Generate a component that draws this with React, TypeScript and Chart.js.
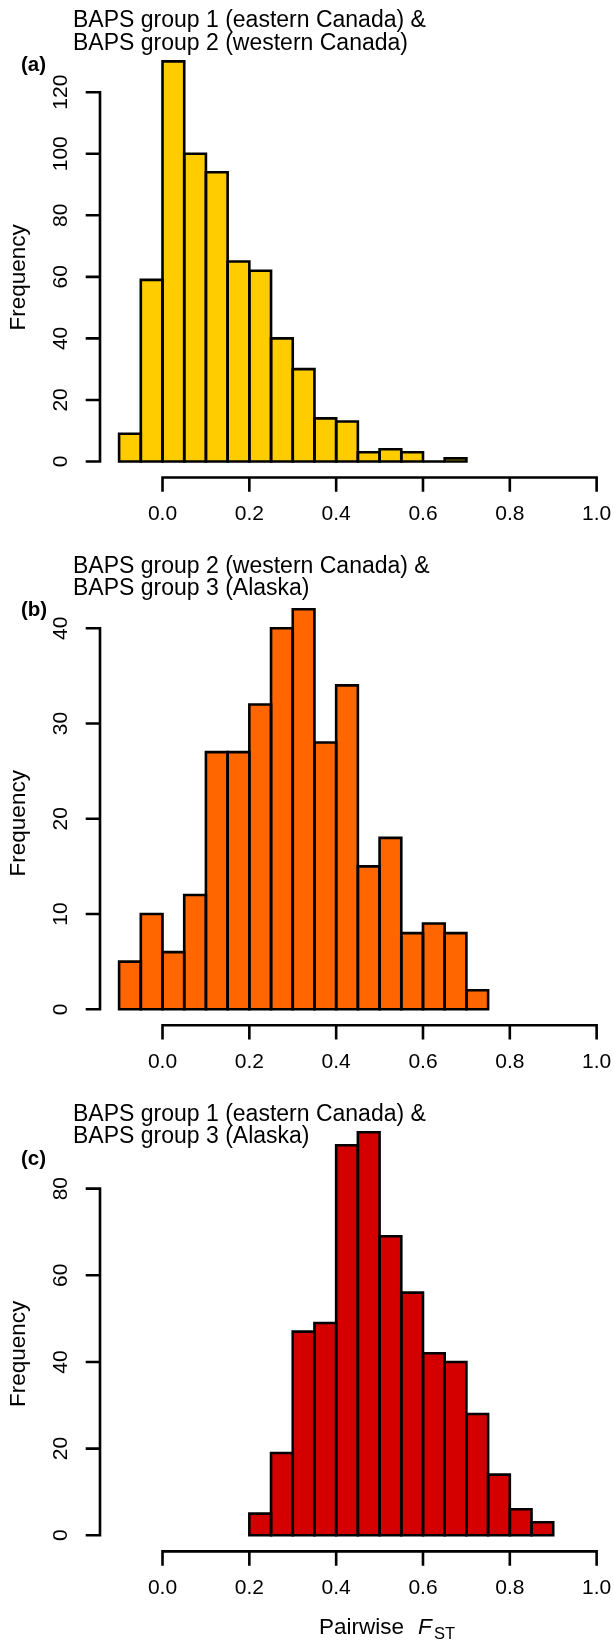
import React, { useEffect, useRef } from "react";
import { Chart, registerables } from "chart.js";

Chart.register(...registerables);

// ---------------- data ----------------
const binWidth = 0.05;

const binStartsA = [-0.1, -0.05, 0.0, 0.05, 0.1, 0.15, 0.2, 0.25, 0.3, 0.35, 0.4, 0.45, 0.5, 0.55, 0.6, 0.65];
const countsA = [9, 59, 130, 100, 94, 65, 62, 40, 30, 14, 13, 3, 4, 3, 0, 1];

const binStartsB = [-0.1, -0.05, 0.0, 0.05, 0.1, 0.15, 0.2, 0.25, 0.3, 0.35, 0.4, 0.45, 0.5, 0.55, 0.6, 0.65, 0.7];
const countsB = [5, 10, 6, 12, 27, 27, 32, 40, 42, 28, 34, 15, 18, 8, 9, 8, 2];

const binStartsC = [0.2, 0.25, 0.3, 0.35, 0.4, 0.45, 0.5, 0.55, 0.6, 0.65, 0.7, 0.75, 0.8, 0.85];
const countsC = [5, 19, 47, 49, 90, 93, 69, 56, 42, 40, 28, 14, 6, 3];

const xTickValues = [0, 0.2, 0.4, 0.6, 0.8, 1.0];
const xTickLabels = ["0.0", "0.2", "0.4", "0.6", "0.8", "1.0"];

const yTicksA = [0, 20, 40, 60, 80, 100, 120];
const yTicksB = [0, 10, 20, 30, 40];
const yTicksC = [0, 20, 40, 60, 80];

const titleA = ["BAPS group 1 (eastern Canada) &", "BAPS group 2 (western Canada)"];
const titleB = ["BAPS group 2 (western Canada) &", "BAPS group 3 (Alaska)"];
const titleC = ["BAPS group 1 (eastern Canada) &", "BAPS group 3 (Alaska)"];

const panelLetters = ["(a)", "(b)", "(c)"];
const panelColors = ["#FFCC00", "#FF6600", "#D40000"];

const yAxisLabel = "Frequency";
const xAxisLabelMain = "Pairwise";
const xAxisLabelVar = "F";
const xAxisLabelSub = "ST";

// ---------------- layout ----------------
const FONT = "'Liberation Sans', Arial, Helvetica, sans-serif";
const LW = 2.6;

type Panel = {
  top: number;
  height: number;
  padTop: number;
  padBottom: number;
  titleY: number[];
  letterY: number;
  ylabShift: number;
  starts: number[];
  counts: number[];
  yTicks: number[];
  title: string[];
  letter: string;
  color: string;
  xLabel: boolean;
};

const panels: Panel[] = [
  { top: 0, height: 540, padTop: 45.4, padBottom: 62.5, titleY: [27.3, 50], letterY: 65, ylabShift: 16,
    starts: binStartsA, counts: countsA, yTicks: yTicksA, title: titleA, letter: panelLetters[0], color: panelColors[0], xLabel: false },
  { top: 540, height: 550, padTop: 53.2, padBottom: 64.7, titleY: [32.5, 55], letterY: 70, ylabShift: 14,
    starts: binStartsB, counts: countsB, yTicks: yTicksB, title: titleB, letter: panelLetters[1], color: panelColors[1], xLabel: false },
  { top: 1090, height: 550, padTop: 26.2, padBottom: 88.6, titleY: [30.5, 53], letterY: 69, ylabShift: 20,
    starts: binStartsC, counts: countsC, yTicks: yTicksC, title: titleC, letter: panelLetters[2], color: panelColors[2], xLabel: true },
];

const rHistPlugin = {
  id: "rHist",
  afterDatasetsDraw(chart: any) {
    const ctx = chart.ctx;
    const meta = chart.getDatasetMeta(0);
    ctx.save();
    ctx.strokeStyle = "#000";
    ctx.lineWidth = LW;
    ctx.lineJoin = "miter";
    meta.data.forEach((el: any) => {
      const { x, y, base, width } = el.getProps(["x", "y", "base", "width"], true);
      ctx.beginPath();
      ctx.rect(x - width / 2, y, width, base - y);
      ctx.stroke();
    });
    ctx.restore();
  },
  afterDraw(chart: any, _args: any, opts: any) {
    const p: Panel = opts.panel;
    const ctx = chart.ctx;
    const xs = chart.scales.x;
    const ys = chart.scales.y;
    const ca = chart.chartArea;
    ctx.save();
    ctx.strokeStyle = "#000";
    ctx.fillStyle = "#000";
    ctx.lineWidth = LW;
    ctx.lineCap = "square";

    // y axis
    const yAxisX = ca.left;
    const yb = ys.getPixelForValue(p.yTicks[0]);
    const yt = ys.getPixelForValue(p.yTicks[p.yTicks.length - 1]);
    ctx.beginPath();
    ctx.moveTo(yAxisX, yb);
    ctx.lineTo(yAxisX, yt);
    p.yTicks.forEach((v) => {
      const py = ys.getPixelForValue(v);
      ctx.moveTo(yAxisX, py);
      ctx.lineTo(yAxisX - 13, py);
    });
    ctx.stroke();
    ctx.font = `21px ${FONT}`;
    ctx.textAlign = "center";
    ctx.textBaseline = "middle";
    p.yTicks.forEach((v) => {
      const py = ys.getPixelForValue(v);
      ctx.save();
      ctx.translate(61, py);
      ctx.rotate(-Math.PI / 2);
      ctx.fillText(String(v), 0, 0);
      ctx.restore();
    });

    // x axis
    const xAxisY = ca.bottom;
    const xl = xs.getPixelForValue(xTickValues[0]);
    const xr = xs.getPixelForValue(xTickValues[xTickValues.length - 1]);
    ctx.beginPath();
    ctx.moveTo(xl, xAxisY);
    ctx.lineTo(xr, xAxisY);
    xTickValues.forEach((v) => {
      const px = xs.getPixelForValue(v);
      ctx.moveTo(px, xAxisY);
      ctx.lineTo(px, xAxisY + 13);
    });
    ctx.stroke();
    xTickValues.forEach((v, i) => {
      ctx.fillText(xTickLabels[i], xs.getPixelForValue(v), xAxisY + 37);
    });

    // y label
    ctx.font = `22.5px ${FONT}`;
    ctx.save();
    ctx.translate(19, (ca.top + ca.bottom) / 2 + p.ylabShift);
    ctx.rotate(-Math.PI / 2);
    ctx.fillText(yAxisLabel, 0, 0);
    ctx.restore();

    // title
    ctx.textAlign = "left";
    ctx.textBaseline = "alphabetic";
    ctx.font = `23px ${FONT}`;
    p.title.forEach((line, i) => ctx.fillText(line, 73, p.titleY[i]));

    // panel letter
    ctx.font = `bold 20.5px ${FONT}`;
    ctx.textBaseline = "middle";
    ctx.fillText(p.letter, 21, p.letterY);

    // x label
    if (p.xLabel) {
      ctx.textBaseline = "alphabetic";
      ctx.font = `22.5px ${FONT}`;
      const base = 544;
      ctx.fillText(xAxisLabelMain, 319, base);
      ctx.font = `italic 22.5px ${FONT}`;
      ctx.fillText(xAxisLabelVar, 418, base);
      ctx.font = `16.5px ${FONT}`;
      ctx.fillText(xAxisLabelSub, 434, base + 5);
    }
    ctx.restore();
  },
};

function HistPanel({ panel }: { panel: Panel }) {
  const ref = useRef<HTMLCanvasElement | null>(null);
  useEffect(() => {
    if (!ref.current) return;
    const ymax = Math.max(...panel.counts);
    const data = panel.starts.map((s, i) => ({ x: s + binWidth / 2, y: panel.counts[i] }));
    const chart = new Chart(ref.current, {
      type: "bar",
      data: {
        datasets: [
          {
            data,
            backgroundColor: panel.color,
            borderWidth: 0,
            barPercentage: 1,
            categoryPercentage: 1,
          } as any,
        ],
      },
      options: {
        responsive: false,
        animation: false,
        devicePixelRatio: 1,
        layout: { padding: { left: 100, right: 0, top: panel.padTop, bottom: panel.padBottom } },
        scales: {
          x: { type: "linear", min: -0.144, max: 1.04, offset: false, display: false },
          y: { type: "linear", min: -0.04 * ymax, max: 1.04 * ymax, display: false },
        },
        plugins: {
          legend: { display: false },
          tooltip: { enabled: false },
          title: { display: false },
          rHist: { panel },
        } as any,
      },
      plugins: [rHistPlugin as any],
    });
    return () => chart.destroy();
  }, [panel]);
  return (
    <canvas
      ref={ref}
      width={614}
      height={panel.height}
      style={{ position: "absolute", left: 0, top: panel.top, width: 614, height: panel.height }}
    />
  );
}

export default function App() {
  return (
    <div style={{ position: "absolute", left: 0, top: 0, width: 614, height: 1640, background: "#fff", overflow: "hidden" }}>
      {panels.map((p, i) => (
        <HistPanel key={i} panel={p} />
      ))}
    </div>
  );
}
